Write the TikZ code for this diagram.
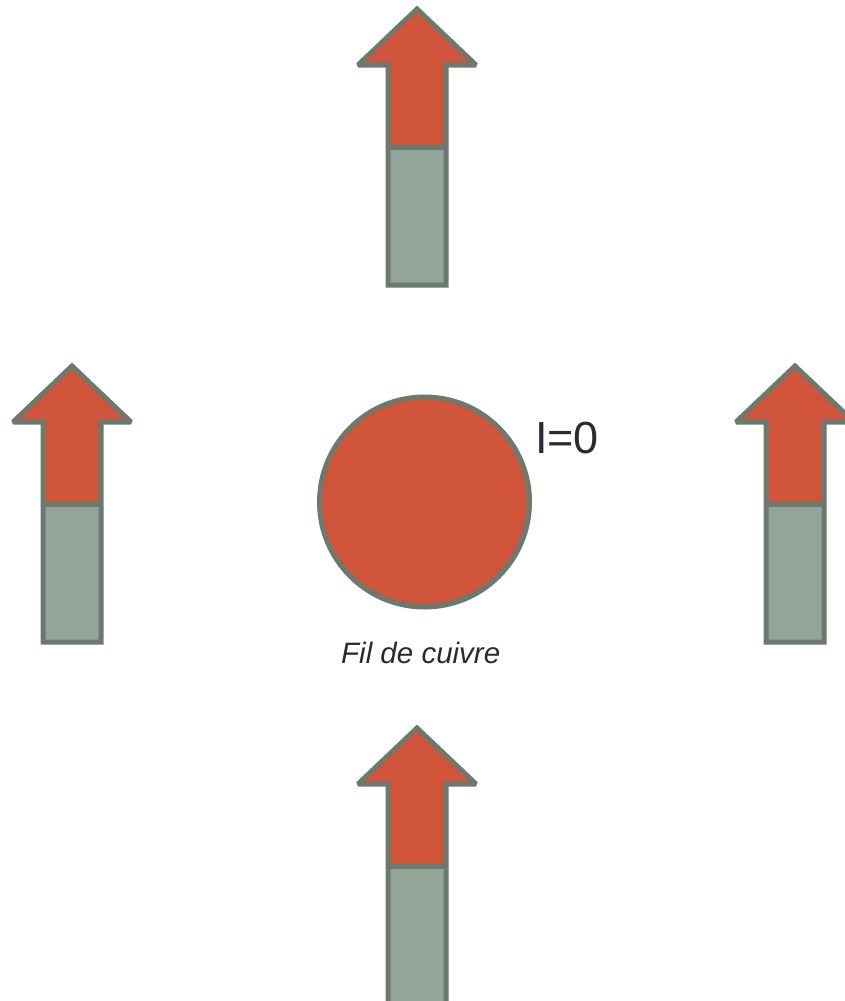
\documentclass[tikz,border=0pt]{standalone}
\usepackage{fontspec}
\setmainfont{Liberation Sans}
\definecolor{magred}{HTML}{D0543A}
\definecolor{maggray}{HTML}{93A498}
\definecolor{edge}{HTML}{6A7A6E}
\definecolor{ink}{HTML}{2A2A35}
\tikzset{
  x=1pt, y=-1pt,
  outline/.style={draw=edge, line width=5pt, line join=miter, miter limit=2},
  pics/compass/.style={code={
    % north half: arrow head and upper shaft
    \fill[magred] (0,0) -- (59,56) -- (29,56) -- (29,138) -- (-29,138) -- (-29,56) -- (-59,56) -- cycle;
    % south half of the needle
    \fill[maggray] (-29,138) rectangle (29,276);
    \draw[outline] (0,0) -- (59,56) -- (29,56) -- (29,276) -- (-29,276) -- (-29,56) -- (-59,56) -- cycle;
    \draw[outline] (-29,138) -- (29,138);
  }}
}
\begin{document}
\begin{tikzpicture}
\useasboundingbox (0,0) rectangle (844,1001);
% compass needles around the wire
\pic at (417,9) {compass};
\pic at (72,366) {compass};
\pic at (795,366) {compass};
\pic at (417,728) {compass};
% copper wire cross-section
\node[circle, fill=magred, draw=edge, line width=5pt, minimum size=210pt, inner sep=0pt] (wire) at (424.5,502) {};
\node[anchor=base west, inner sep=0pt, text=ink, font=\fontsize{45}{45}\selectfont] (current) at (535,453) {I=0};
\node[anchor=base west, inner sep=0pt, text=ink, font=\fontsize{29.5}{29.5}\selectfont\itshape] (label) at (341,663) {Fil de cuivre};
\end{tikzpicture}
\end{document}
